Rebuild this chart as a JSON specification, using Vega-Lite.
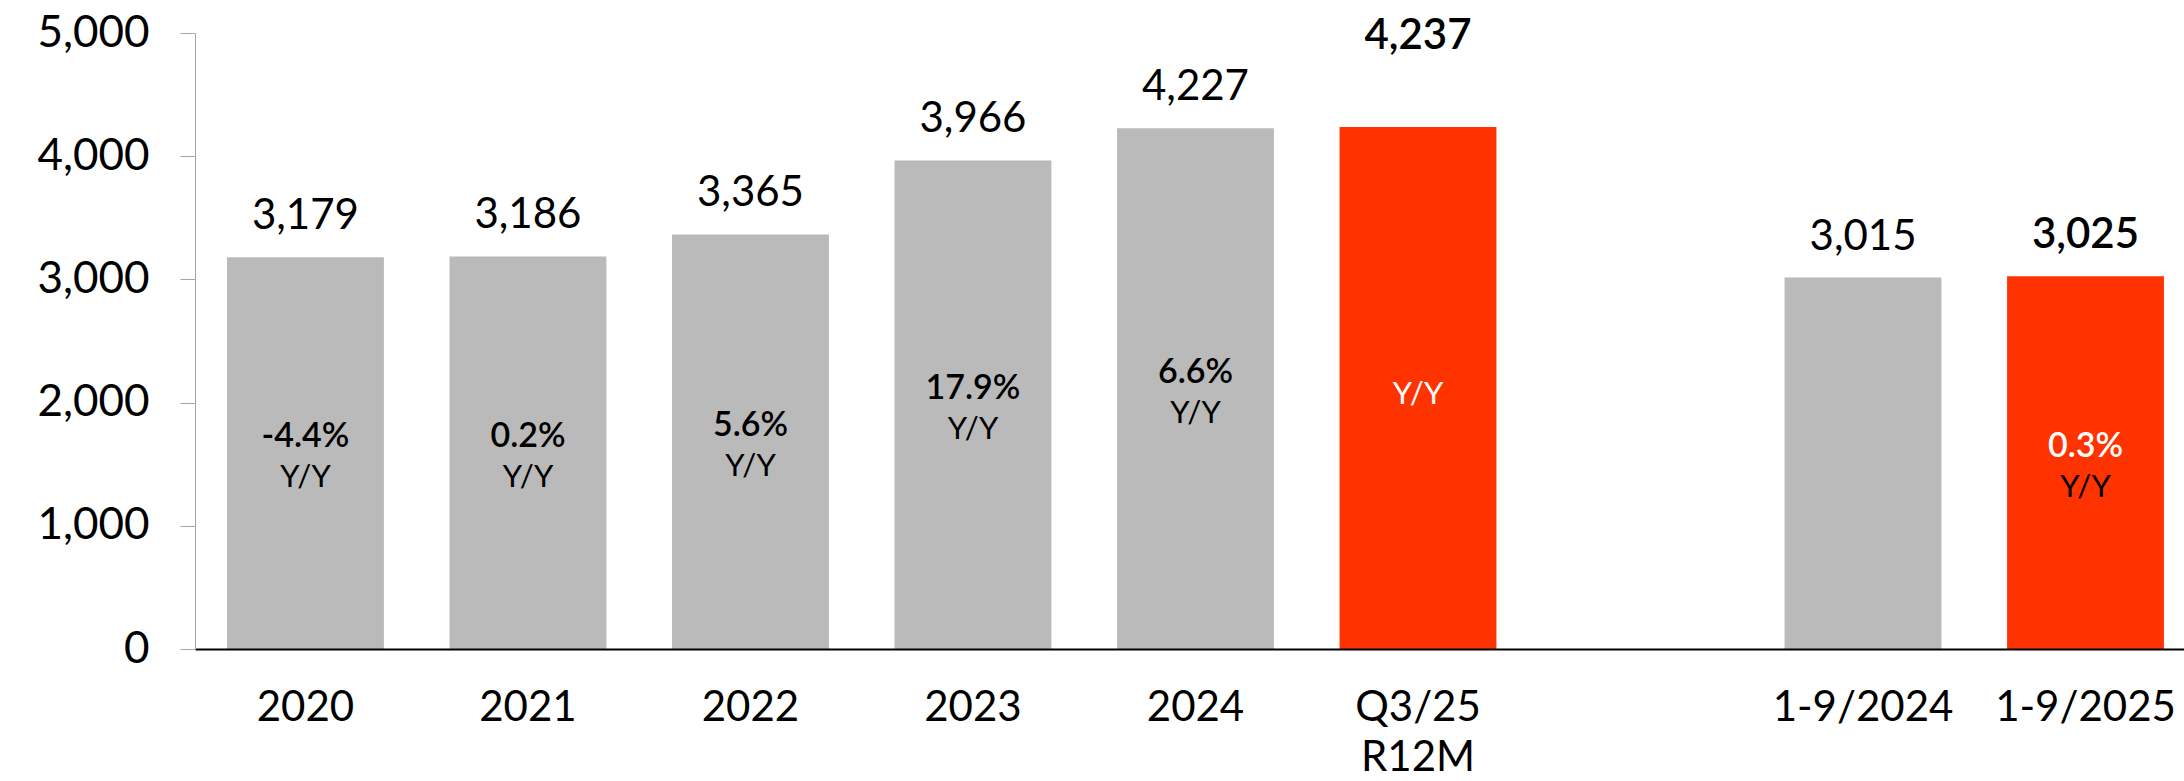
{
  "$schema": "https://vega.github.io/schema/vega-lite/v6.json",
  "autosize": {"type": "none"},
  "padding": {"left": 195, "top": 33, "right": 0, "bottom": 132},
  "width": 1989,
  "height": 616,
  "background": "white",
  "config": {"view": {"stroke": null}, "font": "Lato", "text": {"font": "Lato"}},
  "data": {
    "values": [
      {"cat": "2020", "value": 3179, "group": "base", "pct": "-4.4%", "yy": "Y/Y"},
      {"cat": "2021", "value": 3186, "group": "base", "pct": "0.2%", "yy": "Y/Y"},
      {"cat": "2022", "value": 3365, "group": "base", "pct": "5.6%", "yy": "Y/Y"},
      {"cat": "2023", "value": 3966, "group": "base", "pct": "17.9%", "yy": "Y/Y"},
      {"cat": "2024", "value": 4227, "group": "base", "pct": "6.6%", "yy": "Y/Y"},
      {"cat": "Q3/25 R12M", "value": 4237, "group": "highlight", "pct": "", "yy": "Y/Y"},
      {"cat": "1-9/2024", "value": 3015, "group": "base", "pct": "", "yy": ""},
      {"cat": "1-9/2025", "value": 3025, "group": "highlight", "pct": "0.3%", "yy": "Y/Y"}
    ]
  },
  "encoding": {
    "x": {
      "field": "cat",
      "type": "nominal",
      "sort": null,
      "scale": {
        "domain": ["2020", "2021", "2022", "2023", "2024", "Q3/25 R12M", " ", "1-9/2024", "1-9/2025"],
        "paddingInner": 0.295,
        "paddingOuter": 0.117,
        "align": 0.615
      },
      "axis": {
        "title": null,
        "labelAngle": 0,
        "ticks": false,
        "domainColor": "#000000",
        "domainWidth": 2,
        "labelFontSize": 42,
        "labelFont": "Lato",
        "labelColor": "#000000",
        "labelPadding": 38,
        "labelLineHeight": 50,
        "labelLimit": 500,
        "labelExpr": "split(datum.label, ' ')",
        "labelOverlap": false,
        "labelBound": false,
        "labelFlush": false,
        "zindex": 1
      }
    }
  },
  "layer": [
    {
      "mark": {"type": "bar"},
      "encoding": {
        "y": {
          "field": "value",
          "type": "quantitative",
          "scale": {"domain": [0, 5000], "nice": false},
          "axis": {
            "title": null,
            "grid": false,
            "values": [0, 1000, 2000, 3000, 4000, 5000],
            "format": ",d",
            "domainColor": "#a6a6a6",
            "tickColor": "#a6a6a6",
            "tickSize": 15,
            "labelPadding": 31,
            "labelFontSize": 44,
            "labelFont": "Lato",
            "labelColor": "#000000",
            "zindex": 1
          }
        },
        "color": {
          "field": "group",
          "type": "nominal",
          "scale": {"domain": ["base", "highlight"], "range": ["#bababa", "#ff3300"]},
          "legend": null
        }
      }
    },
    {
      "transform": [{"filter": "datum.group == 'base'"}],
      "mark": {"type": "text", "fontSize": 42, "baseline": "alphabetic", "dy": -28, "color": "#000000"},
      "encoding": {
        "y": {"field": "value", "type": "quantitative", "scale": {"domain": [0, 5000], "nice": false}, "axis": null},
        "text": {"field": "value", "type": "quantitative", "format": ",d"}
      }
    },
    {
      "transform": [{"filter": "datum.cat == '1-9/2025'"}],
      "mark": {"type": "text", "fontSize": 42, "fontWeight": 600, "baseline": "alphabetic", "dy": -28, "color": "#000000"},
      "encoding": {
        "y": {"field": "value", "type": "quantitative", "scale": {"domain": [0, 5000], "nice": false}, "axis": null},
        "text": {"field": "value", "type": "quantitative", "format": ",d"}
      }
    },
    {
      "transform": [{"filter": "datum.cat == 'Q3/25 R12M'"}],
      "mark": {"type": "text", "fontSize": 42, "fontWeight": 600, "baseline": "alphabetic", "dy": -78, "color": "#000000"},
      "encoding": {
        "y": {"field": "value", "type": "quantitative", "scale": {"domain": [0, 5000], "nice": false}, "axis": null},
        "text": {"field": "value", "type": "quantitative", "format": ",d"}
      }
    },
    {
      "transform": [{"filter": "datum.pct != ''"}],
      "mark": {"type": "text", "fontSize": 34, "fontWeight": 600, "baseline": "alphabetic", "dy": -6},
      "encoding": {
        "y": {"field": "value", "type": "quantitative", "scale": {"domain": [0, 10000], "nice": false}, "axis": null},
        "text": {"field": "pct", "type": "nominal"},
        "color": {"condition": {"test": "datum.group == 'highlight'", "value": "#ffffff"}, "value": "#000000"}
      }
    },
    {
      "transform": [{"filter": "datum.yy != '' && datum.cat != 'Q3/25 R12M'"}],
      "mark": {"type": "text", "fontSize": 31, "baseline": "alphabetic", "dy": 34, "color": "#000000"},
      "encoding": {
        "y": {"field": "value", "type": "quantitative", "scale": {"domain": [0, 10000], "nice": false}, "axis": null},
        "text": {"field": "yy", "type": "nominal"}
      }
    },
    {
      "transform": [{"filter": "datum.cat == 'Q3/25 R12M'"}],
      "mark": {"type": "text", "fontSize": 31, "baseline": "alphabetic", "dy": 16, "color": "#ffffff"},
      "encoding": {
        "y": {"field": "value", "type": "quantitative", "scale": {"domain": [0, 10000], "nice": false}, "axis": null},
        "text": {"field": "yy", "type": "nominal"}
      }
    }
  ],
  "resolve": {"scale": {"y": "independent"}}
}
